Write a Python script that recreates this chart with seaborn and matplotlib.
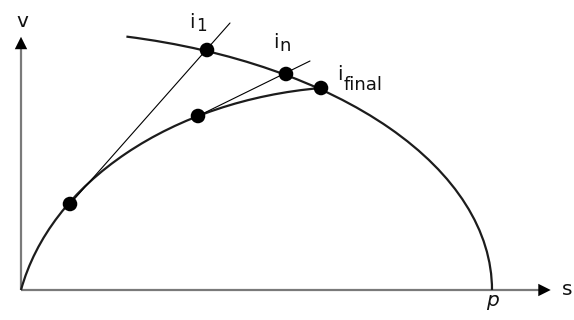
import numpy as np
import pandas as pd
import matplotlib
matplotlib.use("Agg")
import matplotlib.pyplot as plt
from matplotlib.patches import Arc
import seaborn as sns

# ---- diagram geometry (s along the horizontal axis, v along the vertical axis) ----
# outer boundary: quarter ellipse centred at the origin that lands on p
outer_center = (0.0, 0.0)
outer_semi_axes = (471.0, 260.0)
outer_start = (104.0, 250.0)          # left end of the outer curve

# inner path: elliptic arc from the origin up to i_final
inner_center = (340.0, -50.0)
inner_semi_axes = (346.8, 253.7)
inner_start = (0.0, 0.0)
inner_end = (300.0, 202.0)

# marked points
point_names = ["start", "i1", "mid", "in", "ifinal"]
point_s = [49, 186, 177, 265, 300]
point_v = [86, 240, 174, 216, 202]

# straight chords through the marked points
chord1_s = [49, 209]
chord1_v = [86, 267]
chord2_s = [177, 289]
chord2_v = [174, 229]

# axis extents (arrow-head centres)
s_axis_end = 523.5
v_axis_end = 247.0
p_value = 471.0

sns.set_style("white")
plt.rcParams["font.family"] = ["DejaVu Sans"]

fig = plt.figure(figsize=(5.74, 3.20), dpi=100)
ax = fig.add_axes([0, 0, 1, 1])
ax.set_xlim(-21, 553)
ax.set_ylim(-30, 290)
ax.axis("off")

curve_color = "#1c1c1c"
axis_color = "#7a7a7a"
text_color = "#111111"

# axes
ax.plot([0, s_axis_end - 5], [0, 0], color=axis_color, lw=1.6, solid_capstyle="butt", zorder=1)
ax.plot([0, 0], [0, v_axis_end - 4], color=axis_color, lw=1.6, solid_capstyle="butt", zorder=1)
heads = pd.DataFrame({"s": [s_axis_end, 0.0], "v": [0.0, v_axis_end], "m": [">", "^"]})
for _, row in heads.iterrows():
    sns.scatterplot(x=[row.s], y=[row.v], marker=row.m, s=80, color="black",
                    edgecolor="none", ax=ax, zorder=3)

# outer curve
theta_outer = np.degrees(np.arctan2(outer_start[1] - outer_center[1],
                                    outer_start[0] - outer_center[0]))
ax.add_patch(Arc(outer_center, 2 * outer_semi_axes[0], 2 * outer_semi_axes[1],
                 theta1=0.0, theta2=theta_outer, color=curve_color, lw=1.6, zorder=2))

# inner curve
th_a = np.degrees(np.arctan2(inner_end[1] - inner_center[1], inner_end[0] - inner_center[0]))
th_b = np.degrees(np.arctan2(inner_start[1] - inner_center[1], inner_start[0] - inner_center[0]))
ax.add_patch(Arc(inner_center, 2 * inner_semi_axes[0], 2 * inner_semi_axes[1],
                 theta1=th_a, theta2=th_b, color=curve_color, lw=1.6, zorder=2))

# chords
for cs, cv in [(chord1_s, chord1_v), (chord2_s, chord2_v)]:
    sns.lineplot(x=cs, y=cv, sort=False, color="black", lw=0.8, ax=ax, zorder=2)

# marked points
pts = pd.DataFrame({"s": point_s, "v": point_v, "name": point_names})
sns.scatterplot(data=pts, x="s", y="v", s=110, color="black", edgecolor="none",
                ax=ax, zorder=4, legend=False)

# labels
fs_main = 14.5
fs_sub = 13
ax.text(1, 263, "v", ha="center", va="baseline", fontsize=fs_main, color=text_color)
ax.text(546, -5, "s", ha="center", va="baseline", fontsize=fs_main, color=text_color)
ax.text(p_value, -16, "p", ha="center", va="baseline", fontsize=fs_main,
        style="italic", color=text_color)

ax.text(168, 262, "i", ha="left", va="baseline", fontsize=fs_main, color=text_color)
ax.text(175, 259, "1", ha="left", va="baseline", fontsize=fs_sub - 1, color=text_color)
ax.text(252, 242, "i", ha="left", va="baseline", fontsize=fs_main, color=text_color)
ax.text(258, 239, "n", ha="left", va="baseline", fontsize=fs_sub, color=text_color)
ax.text(316, 210, "i", ha="left", va="baseline", fontsize=fs_main, color=text_color)
ax.text(323, 200, "final", ha="left", va="baseline", fontsize=fs_sub, color=text_color)

fig.savefig("out.png", dpi=100)
